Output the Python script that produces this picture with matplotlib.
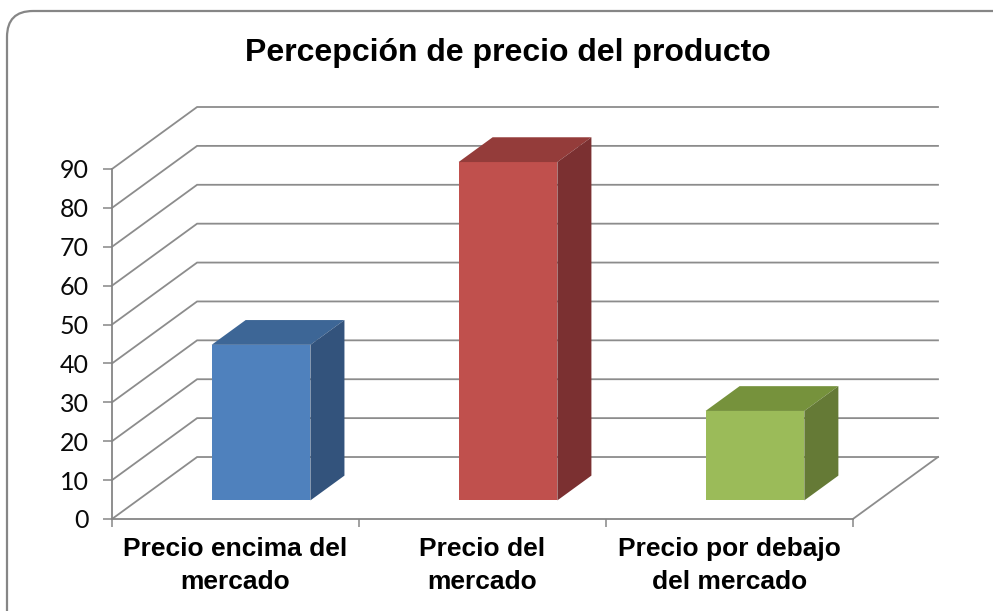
import matplotlib
matplotlib.use("Agg")
import matplotlib.pyplot as plt
from matplotlib.patches import FancyBboxPatch

# Survey results: perception of the product's price
categories = ["Precio encima del\nmercado", "Precio del\nmercado", "Precio por debajo\ndel mercado"]
values = [40, 87, 23]
y_ticks = [0, 10, 20, 30, 40, 50, 60, 70, 80, 90]
title = "Percepción de precio del producto"

front_colors = ["#4F81BD", "#C0504D", "#9BBB59"]
top_colors = ["#3D6696", "#943C3A", "#76923C"]
side_colors = ["#33537C", "#7B3031", "#657A36"]

# Oblique depth offset of the floor/back wall, in data units
DX, DY = 0.3446, 15.94
# Bars occupy the middle of the floor depth and of each category
D0, D1 = 0.30, 0.70
W0, W1 = 0.30, 0.70
grid_color = "#8C8C8C"

W, H = 993, 611
fig = plt.figure(figsize=(W / 100, H / 100), dpi=100)

# Pixel-space overlay for the rounded frame
bg = fig.add_axes([0, 0, 1, 1], zorder=0)
bg.set_xlim(0, W)
bg.set_ylim(H, 0)
bg.axis("off")
frame = FancyBboxPatch((7, 11), 1040, 650, boxstyle="round,pad=0,rounding_size=26",
                       fc="white", ec="#868686", lw=1.6)
bg.add_patch(frame)

ax = fig.add_axes([112 / W, 92 / H, 826 / W, 412 / H], zorder=1)
ax.patch.set_alpha(0)
n = len(categories)
ax.set_xlim(0, n + DX)
ax.set_ylim(0, max(y_ticks) + DY)

# Back wall / side wall gridlines
for v in y_ticks:
    ax.plot([0, DX, n + DX], [v, v + DY, v + DY], color=grid_color, lw=1.3,
            clip_on=False, zorder=1, solid_joinstyle="miter")
# Right edge of the floor
ax.plot([n, n + DX], [0, DY], color=grid_color, lw=1.3, clip_on=False, zorder=1)

# 3D-looking bars
for i, (v, fc, tc, sc) in enumerate(zip(values, front_colors, top_colors, side_colors)):
    x0, x1 = i + W0, i + W1
    fx0, fx1 = x0 + D0 * DX, x1 + D0 * DX
    fy0 = D0 * DY
    bx0, bx1 = x0 + D1 * DX, x1 + D1 * DX
    by0 = D1 * DY
    # front face
    ax.fill([fx0, fx1, fx1, fx0], [fy0, fy0, fy0 + v, fy0 + v], color=fc, lw=0, zorder=3)
    # top face
    ax.fill([fx0, fx1, bx1, bx0], [fy0 + v, fy0 + v, by0 + v, by0 + v], color=tc, lw=0, zorder=3)
    # side face
    ax.fill([fx1, bx1, bx1, fx1], [fy0, by0, by0 + v, fy0 + v], color=sc, lw=0, zorder=3)

for s in ["top", "right"]:
    ax.spines[s].set_visible(False)
for s in ["left", "bottom"]:
    ax.spines[s].set_color("#868686")
    ax.spines[s].set_linewidth(1.3)
    ax.spines[s].set_zorder(2)
ax.spines["left"].set_bounds(0, max(y_ticks))
ax.spines["bottom"].set_bounds(0, n)

ax.set_yticks(y_ticks)
ax.set_yticklabels([str(t) for t in y_ticks], fontfamily="Lato", fontsize=18, color="#0a0a0a")
ax.tick_params(axis="y", direction="out", length=6.5, width=1.1, color="#868686", pad=10)

ax.set_xticks(range(n + 1))
ax.set_xticklabels([])
ax.set_xticks([i + 0.5 for i in range(n)], minor=True)
ax.set_xticklabels(categories, minor=True, fontfamily="Liberation Sans",
                   fontweight="bold", fontsize=19, linespacing=1.45)
ax.tick_params(axis="x", which="major", direction="out", length=6, width=1.1, color="#868686")
ax.tick_params(axis="x", which="minor", length=0, pad=13)

fig.text(508 / W, 1 - 61 / H, title, ha="center", va="baseline",
         fontfamily="Liberation Sans", fontweight="bold", fontsize=23)

fig.savefig("out.png", dpi=100)
